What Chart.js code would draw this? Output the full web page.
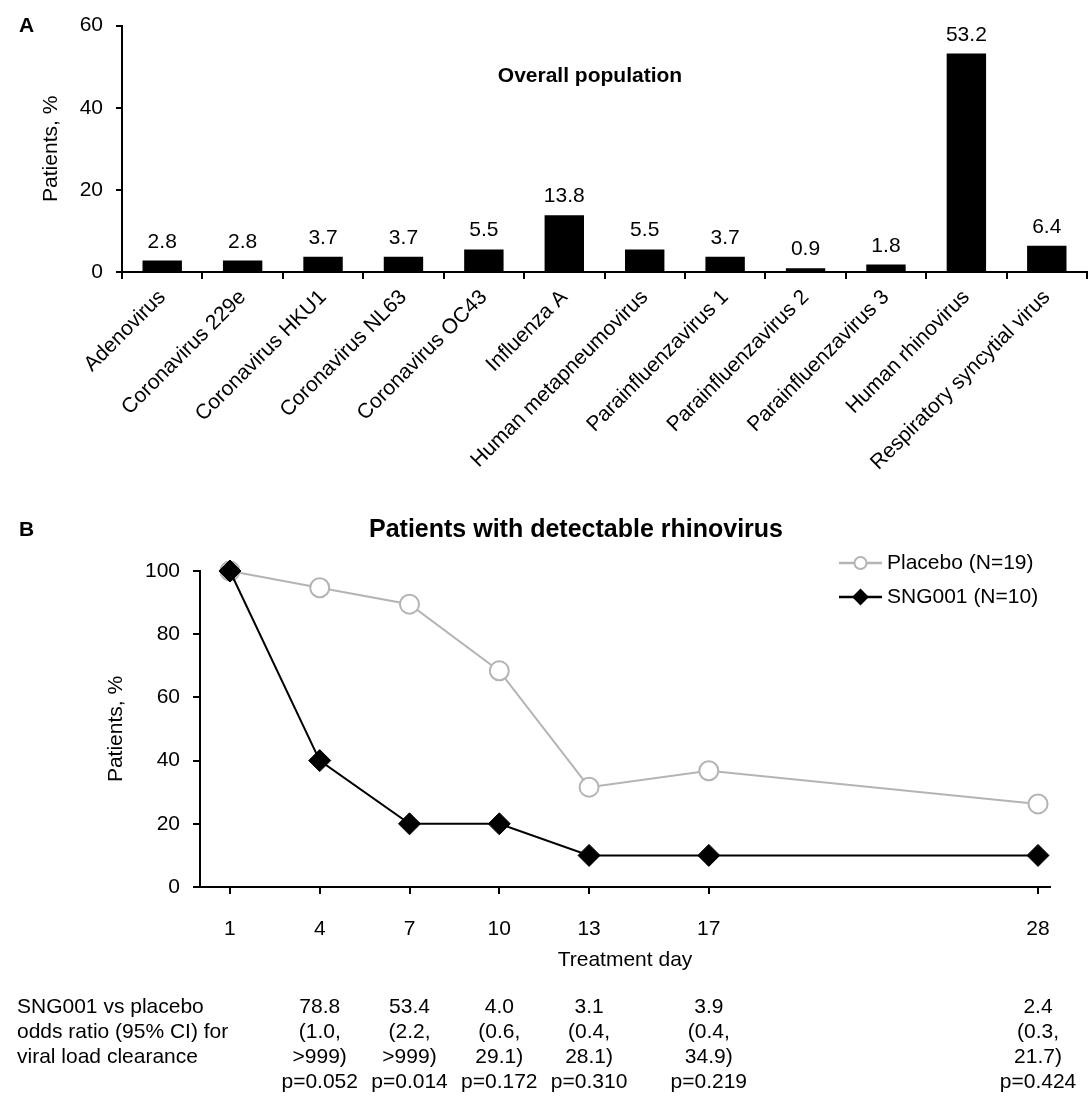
<!DOCTYPE html>
<html>
<head>
<meta charset="utf-8">
<title>Viruses and rhinovirus clearance</title>
<script src="https://cdn.jsdelivr.net/npm/chart.js@4.4.0/dist/chart.umd.min.js"></script>
<style>
  body { margin: 0; background: #fff; }
  .panel { position: absolute; left: 0; }
  #panelA { top: 0; }
  #panelB { top: 495px; }
</style>
</head>
<body>
<div class="panel" id="panelA"><canvas id="chartA" width="1092" height="495"></canvas></div>
<div class="panel" id="panelB"><canvas id="chartB" width="1092" height="601"></canvas></div>
<script>
// Panel A data
const viruses = ['Adenovirus', 'Coronavirus 229e', 'Coronavirus HKU1', 'Coronavirus NL63', 'Coronavirus OC43',
  'Influenza A', 'Human metapneumovirus', 'Parainfluenzavirus 1', 'Parainfluenzavirus 2',
  'Parainfluenzavirus 3', 'Human rhinovirus', 'Respiratory syncytial virus'];
const virusPct = [2.8, 2.8, 3.7, 3.7, 5.5, 13.8, 5.5, 3.7, 0.9, 1.8, 53.2, 6.4];
const pctTicksA = [0, 20, 40, 60];

// Panel B data
const days = [1, 4, 7, 10, 13, 17, 28];
const placebo = [100, 94.7, 89.5, 68.4, 31.6, 36.8, 26.3];
const sng001 = [100, 40, 20, 20, 10, 10, 10];
const pctTicksB = [0, 20, 40, 60, 80, 100];

// odds ratio table under panel B
const tableLabel = ['SNG001 vs placebo', 'odds ratio (95% CI) for', 'viral load clearance'];
const oddsDays = [4, 7, 10, 13, 17, 28];
const oddsRatio = ['78.8', '53.4', '4.0', '3.1', '3.9', '2.4'];
const ciLow = ['1.0', '2.2', '0.6', '0.4', '0.4', '0.3'];
const ciHigh = ['>999', '>999', '29.1', '28.1', '34.9', '21.7'];
const pValues = ['0.052', '0.014', '0.172', '0.310', '0.219', '0.424'];

const FONT = '"Liberation Sans", Arial, sans-serif';
const SIZE = 21;
Chart.defaults.font.family = FONT;
Chart.defaults.font.size = SIZE;
Chart.defaults.color = '#000';

const axisGrid = { drawOnChartArea: false, color: '#000', lineWidth: 2, tickLength: 7 };
const axisBorder = { display: true, color: '#000', width: 2 };

// panel letter + bold title
const panelText = {
  id: 'panelText',
  afterDraw(chart, args, opts) {
    const ctx = chart.ctx;
    ctx.save();
    ctx.fillStyle = '#000';
    ctx.textBaseline = 'middle';
    ctx.font = 'bold 21px ' + FONT;
    ctx.textAlign = 'left';
    ctx.fillText(opts.letter, 19, opts.letterY);
    ctx.font = 'bold ' + opts.titleSize + 'px ' + FONT;
    ctx.textAlign = 'center';
    ctx.fillText(opts.title, opts.titleX, opts.titleY);
    ctx.restore();
  }
};

// value labels over the bars
const barLabels = {
  id: 'barLabels',
  afterDatasetsDraw(chart) {
    const ctx = chart.ctx;
    const meta = chart.getDatasetMeta(0);
    ctx.save();
    ctx.font = SIZE + 'px ' + FONT;
    ctx.fillStyle = '#000';
    ctx.textAlign = 'center';
    ctx.textBaseline = 'alphabetic';
    meta.data.forEach((bar, i) => {
      ctx.fillText(virusPct[i].toFixed(1), bar.x, bar.y - 13);
    });
    ctx.restore();
  }
};

new Chart(document.getElementById('chartA'), {
  type: 'bar',
  data: {
    labels: viruses,
    datasets: [{
      data: virusPct,
      backgroundColor: '#000',
      borderWidth: 0,
      barPercentage: 0.49,
      categoryPercentage: 1
    }]
  },
  options: {
    responsive: false,
    animation: false,
    layout: { padding: { left: 0, top: 24, right: 5, bottom: 0 } },
    plugins: {
      legend: { display: false },
      tooltip: { enabled: false },
      panelText: { letter: 'A', letterY: 26, title: 'Overall population', titleSize: 21, titleX: 590, titleY: 76 }
    },
    scales: {
      x: {
        grid: Object.assign({ offset: true }, axisGrid),
        border: axisBorder,
        ticks: { autoSkip: false, minRotation: 45, maxRotation: 45, padding: 6 },
        afterFit: s => { s.height = 223; }
      },
      y: {
        min: 0,
        max: 60,
        grid: Object.assign({}, axisGrid, { tickLength: 6 }),
        border: axisBorder,
        ticks: { padding: 13 },
        afterBuildTicks: s => { s.ticks = pctTicksA.map(v => ({ value: v })); },
        title: { display: true, text: 'Patients, %', padding: { top: 39, bottom: 0 } },
        afterFit: s => { s.width = 122; }
      }
    }
  },
  plugins: [barLabels, panelText]
});

// legend with line + marker samples
const lineLegend = {
  id: 'lineLegend',
  afterDraw(chart) {
    const ctx = chart.ctx;
    const rows = [
      { ds: chart.data.datasets[1], y: 68 },
      { ds: chart.data.datasets[0], y: 102 }
    ];
    ctx.save();
    rows.forEach(r => {
      const ds = r.ds;
      ctx.strokeStyle = ds.borderColor;
      ctx.lineWidth = ds.borderWidth + 0.5;
      ctx.beginPath();
      ctx.moveTo(839, r.y);
      ctx.lineTo(882, r.y);
      ctx.stroke();
      ctx.beginPath();
      if (ds.pointStyle === 'circle') {
        ctx.arc(860.5, r.y, 6, 0, Math.PI * 2);
      } else {
        ctx.moveTo(860.5, r.y - 7);
        ctx.lineTo(867.5, r.y);
        ctx.lineTo(860.5, r.y + 7);
        ctx.lineTo(853.5, r.y);
        ctx.closePath();
      }
      ctx.fillStyle = ds.pointBackgroundColor;
      ctx.fill();
      ctx.lineWidth = 2;
      ctx.strokeStyle = ds.pointBorderColor;
      ctx.stroke();
      ctx.fillStyle = '#000';
      ctx.font = SIZE + 'px ' + FONT;
      ctx.textAlign = 'left';
      ctx.textBaseline = 'middle';
      ctx.fillText(ds.label, 887, r.y);
    });
    ctx.restore();
  }
};

// odds ratio table drawn under the x axis, columns follow the x scale
const oddsTable = {
  id: 'oddsTable',
  afterDraw(chart) {
    const ctx = chart.ctx;
    const xs = chart.scales.x;
    const rowY = [512, 537, 562, 587];
    ctx.save();
    ctx.font = SIZE + 'px ' + FONT;
    ctx.fillStyle = '#000';
    ctx.textBaseline = 'middle';
    ctx.textAlign = 'left';
    tableLabel.forEach((t, i) => ctx.fillText(t, 17, rowY[i]));
    ctx.textAlign = 'center';
    oddsDays.forEach((d, i) => {
      const x = xs.getPixelForValue(d);
      ctx.fillText(oddsRatio[i], x, rowY[0]);
      ctx.fillText('(' + ciLow[i] + ',', x, rowY[1]);
      ctx.fillText(ciHigh[i] + ')', x, rowY[2]);
      ctx.fillText('p=' + pValues[i], x, rowY[3]);
    });
    ctx.restore();
  }
};

new Chart(document.getElementById('chartB'), {
  type: 'line',
  data: {
    datasets: [{
      label: 'SNG001 (N=10)',
      data: days.map((d, i) => ({ x: d, y: sng001[i] })),
      borderColor: '#000',
      borderWidth: 2,
      pointStyle: 'rectRot',
      pointRadius: 11,
      pointBackgroundColor: '#000',
      pointBorderColor: '#000',
      pointBorderWidth: 1,
      clip: false,
      order: 0
    }, {
      label: 'Placebo (N=19)',
      data: days.map((d, i) => ({ x: d, y: placebo[i] })),
      borderColor: '#b4b4b4',
      borderWidth: 2,
      pointStyle: 'circle',
      pointRadius: 9.5,
      pointBackgroundColor: '#fff',
      pointBorderColor: '#b4b4b4',
      pointBorderWidth: 2,
      clip: false,
      order: 1
    }]
  },
  options: {
    responsive: false,
    animation: false,
    layout: { padding: { left: 0, top: 76, right: 42, bottom: 109 } },
    plugins: {
      legend: { display: false },
      tooltip: { enabled: false },
      panelText: { letter: 'B', letterY: 35, title: 'Patients with detectable rhinovirus', titleSize: 25, titleX: 576, titleY: 35 }
    },
    scales: {
      x: {
        type: 'linear',
        min: 0,
        max: 28.4,
        grid: axisGrid,
        border: axisBorder,
        ticks: { padding: 23 },
        afterBuildTicks: s => { s.ticks = days.map(v => ({ value: v })); },
        title: { display: true, text: 'Treatment day', padding: { top: 0, bottom: 14 } },
        afterFit: s => { s.height = 100; }
      },
      y: {
        min: 0,
        max: 100,
        grid: axisGrid,
        border: axisBorder,
        ticks: { padding: 13 },
        afterBuildTicks: s => { s.ticks = pctTicksB.map(v => ({ value: v })); },
        title: { display: true, text: 'Patients, %', padding: { top: 104, bottom: 0 } },
        afterFit: s => { s.width = 200; }
      }
    }
  },
  plugins: [lineLegend, oddsTable, panelText]
});
</script>
</body>
</html>
